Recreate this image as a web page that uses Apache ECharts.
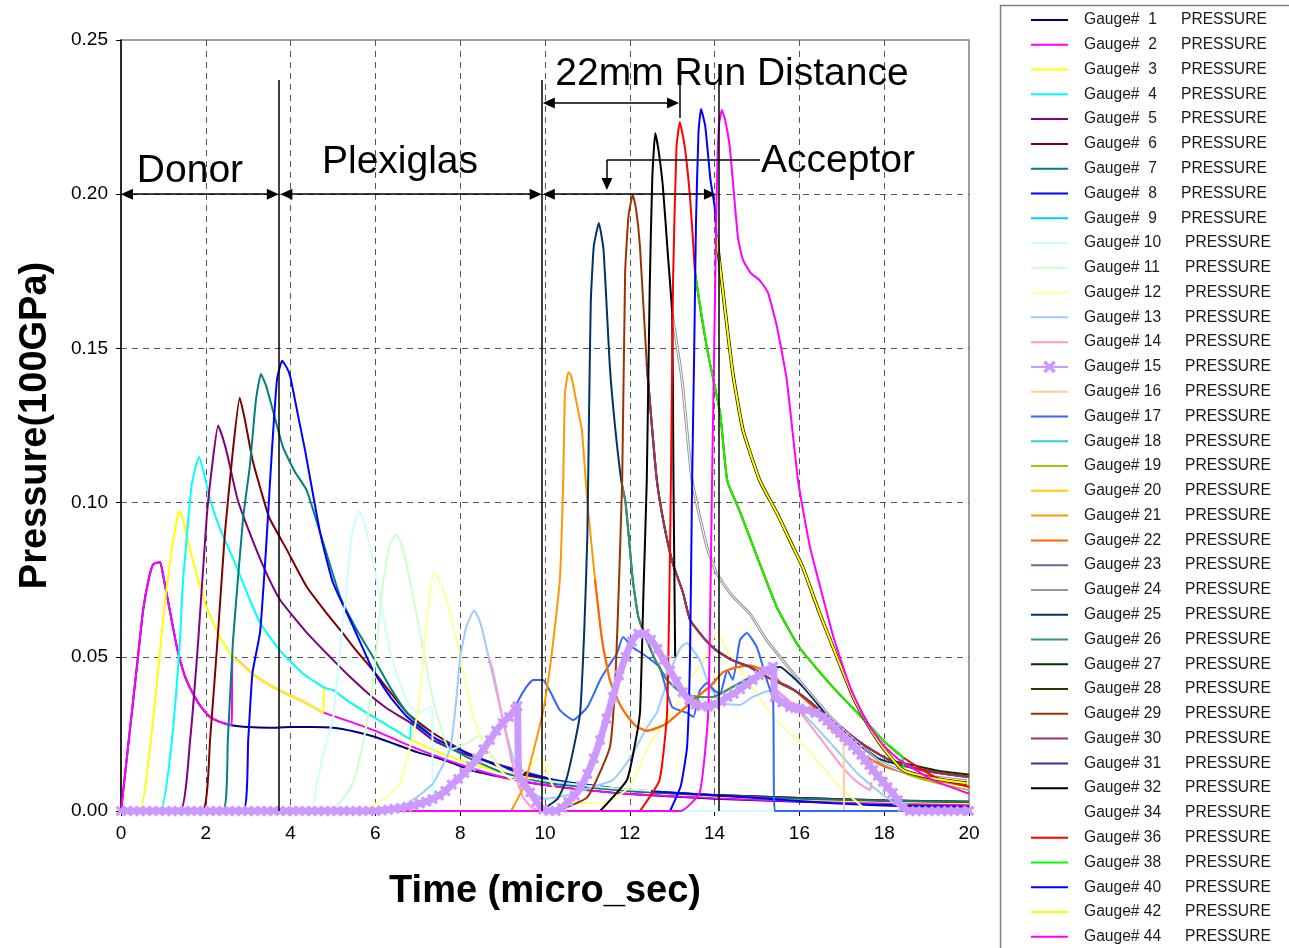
<!DOCTYPE html>
<html><head><meta charset="utf-8">
<script src="https://cdn.jsdelivr.net/npm/echarts@6/dist/echarts.min.js"></script>
<style>html,body{margin:0;padding:0;background:#fff}#c{width:1289px;height:948px}</style>
</head><body><div id="c"></div>
<script>
const FONT = "'Liberation Sans', Arial, sans-serif";
const gaugeIds = [1,2,3,4,5,6,7,8,9,10,11,12,13,14,15,16,17,18,19,20,21,22,23,24,25,26,27,28,29,30,31,32,34,36,38,40,42,44];
const gaugeColors = ['#000080','#FF00FF','#FFFF00','#00FFFF','#800080','#800000','#008080','#0000FF','#00CCFF','#CCFFFF','#CCFFCC','#FFFF99','#99CCFF','#FF99CC','#CC99FF','#FFCC99','#3366FF','#33CCCC','#99CC00','#FFCC00','#FF9900','#FF6600','#666699','#969696','#003366','#339966','#003300','#333300','#993300','#993366','#333399','#000000','#FFFFFF','#FF0000','#00FF00','#0000FF','#FFFF00','#FF00FF'];

// ---- curve pieces (x: micro_sec, y: 100GPa) ----
const navyPeak = [[0,0],[0.2,0.025],[0.4,0.05],[0.52,0.065],[0.65,0.075],[0.76,0.08],[0.92,0.0807],[1.0,0.076],[1.11,0.068],[1.32,0.053],[1.5,0.044],[1.7,0.038],[1.9,0.0335],[2.1,0.0305],[2.35,0.0288],[2.6,0.0278]];
const navyTail = [[3.0,0.0272],[3.5,0.027],[4.0,0.0272],[4.5,0.0272],[5.0,0.027],[5.5,0.0258],[6.0,0.024],[6.5,0.0215],[7.0,0.019],[7.5,0.017],[7.83,0.0155],[8.3,0.013],[8.8,0.0115],[9.5,0.0095],[10.5,0.0075],[12,0.0055],[14,0.004],[16,0.003],[18,0.0022],[20,0.0015]];
const yellowMid = [[2.64,0.05],[3.2,0.0435],[3.75,0.039],[4.3,0.0355],[4.77,0.032]];
const magentaTail = [[5.5,0.0285],[6.0,0.026],[6.58,0.0225],[7.2,0.019],[7.8,0.016],[8.4,0.0133],[9.0,0.011],[9.6,0.0093],[10.5,0.0075],[12,0.0055],[14,0.0042],[16,0.0032],[18,0.0025],[20,0.002]];
const yellowRise = [[0,0],[0.45,0],[0.68,0.02],[0.85,0.042],[1.0,0.063],[1.2,0.085],[1.37,0.0973],[1.45,0.095],[1.55,0.089],[1.8,0.076],[2.02,0.066],[2.33,0.0565]];
const cyanMid = [[4.79,0.04],[5.0,0.0392],[5.4,0.0352],[5.8,0.0318],[6.2,0.0285],[6.58,0.0253],[6.82,0.0233]];
const yellowTail = [[7.5,0.019],[8.16,0.0158],[9.0,0.0125],[9.88,0.0105],[11,0.008],[12.5,0.006],[14,0.0048],[16,0.0037],[18,0.003],[20,0.0025]];
const cyanRise = [[0,0],[0.92,0],[1.2,0.023],[1.39,0.055],[1.46,0.074],[1.67,0.106],[1.84,0.1148],[1.95,0.11],[2.1,0.101],[2.35,0.091],[2.64,0.082],[2.95,0.0715],[3.28,0.061],[3.75,0.052],[4.3,0.0445]];
const purpleRise = [[0,0],[1.39,0],[1.63,0.023],[1.82,0.055],[2.02,0.095],[2.15,0.112],[2.29,0.125],[2.4,0.121],[2.5,0.116],[2.75,0.101],[3.04,0.09],[3.4,0.078],[3.75,0.0685],[4.39,0.0577],[5.0,0.049],[5.4,0.0435],[5.87,0.0376],[6.3,0.033]];
const purpleTail = [[6.84,0.0285],[7.36,0.023],[8.0,0.019],[8.8,0.0155],[9.34,0.0133],[10.5,0.0092],[12,0.0067],[14,0.0052],[16,0.0042],[18,0.0034],[20,0.003]];
const g06 = [[0,0],[1.91,0],[2.1,0.023],[2.3,0.06],[2.45,0.09],[2.64,0.117],[2.8,0.134],[2.92,0.127],[3.1,0.114],[3.3,0.104],[3.5,0.095],[3.9,0.085],[4.38,0.0727],[4.8,0.065],[5.17,0.0587],[5.55,0.052],[5.94,0.0457],[6.35,0.0385],[6.75,0.0318],[7.36,0.0253],[8.16,0.0188],[9.34,0.0123],[10.5,0.009],[12,0.0065],[14,0.0052],[16,0.0042],[18,0.0035],[20,0.003]];
const g07 = [[0,0],[2.4,0],[2.52,0.023],[2.64,0.055],[2.88,0.095],[3.04,0.112],[3.18,0.133],[3.3,0.1417],[3.42,0.138],[3.58,0.13],[3.82,0.118],[4.1,0.11],[4.38,0.104],[4.77,0.087],[5.17,0.0694],[5.55,0.059],[5.94,0.05],[6.35,0.04],[6.75,0.0318],[7.36,0.024],[8.16,0.0175],[9.0,0.0125],[10.1,0.009],[12,0.0065],[14,0.005],[16,0.004],[18,0.0033],[20,0.003]];
const g08 = [[0,0],[2.88,0],[3.0,0.023],[3.1,0.0447],[3.28,0.058],[3.42,0.085],[3.56,0.117],[3.68,0.14],[3.8,0.146],[3.9,0.144],[3.99,0.141],[4.15,0.13],[4.34,0.117],[4.7,0.09],[5.0,0.074],[5.47,0.06],[5.94,0.0457],[6.35,0.037],[6.75,0.0305],[7.36,0.024],[8.0,0.0198],[8.94,0.0145],[10.05,0.0105],[11,0.0085],[12.07,0.0068],[13.5,0.0055],[15,0.0042],[16.8,0.0025],[18.5,0.0015],[20,0.001]];
const hiddenBase = [[0,0],[6,0]];
const g10 = [[0,0],[4.46,0],[4.62,0.009],[4.8,0.02],[5.0,0.03],[5.15,0.05],[5.33,0.074],[5.45,0.09],[5.6,0.0973],[5.7,0.095],[5.8,0.09],[6.04,0.074],[6.34,0.052],[6.58,0.0415],[6.82,0.0337],[7.05,0.032],[7.29,0.0337],[7.34,0.033],[7.37,0],[20,0]];
const g11 = [[0,0],[4.93,0],[5.47,0.009],[5.75,0.025],[5.94,0.0415],[6.18,0.074],[6.35,0.087],[6.49,0.0895],[6.6,0.087],[6.75,0.079],[6.98,0.063],[7.36,0.036],[7.76,0.0198],[8.16,0.022],[8.47,0.0246],[8.7,0.019],[8.94,0.0143],[9.5,0.011],[10.5,0.009],[11.5,0.0075],[12.5,0.0065]];
const g12 = [[0,0],[5.64,0],[6.2,0.004],[6.58,0.009],[6.98,0.0305],[7.1,0.045],[7.22,0.063],[7.38,0.0775],[7.5,0.075],[7.69,0.068],[8.0,0.05],[8.23,0.035],[8.47,0.024],[8.94,0.0133],[9.25,0.01],[9.6,0.014],[9.88,0.0175],[10.2,0.0078],[10.83,0.0026],[11.5,0.003],[12.0,0.008],[12.48,0.022],[13.0,0.032],[13.4,0.042],[13.82,0.051],[14.05,0.058],[14.3,0.052],[14.6,0.046],[15.0,0.038],[15.38,0.0305],[16.2,0.0198],[16.96,0.0078],[17.6,0]];
const g13 = [[0,0],[6.42,0],[6.98,0.0045],[7.36,0.009],[7.76,0.02],[7.9,0.035],[8.0,0.05],[8.15,0.06],[8.33,0.065],[8.45,0.062],[8.54,0.0577],[8.7,0.048],[9.0,0.03],[9.3,0.015],[9.6,0.007],[10.0,0.004],[10.5,0.005],[11.13,0.0078],[11.6,0.01],[12.0,0.017],[12.4,0.027],[12.64,0.032],[13.0,0.047],[13.2,0.053],[13.35,0.0545],[13.5,0.052],[13.65,0.049],[13.9,0.04],[14.2,0.035],[14.6,0.0344],[14.9,0.037],[15.3,0.039],[15.6,0.037],[16.2,0.03],[16.8,0.021],[17.36,0.0123],[17.9,0.006],[18.37,0.0013],[18.5,0]];
const g14 = [[8.66,0.048],[8.7,0.049],[8.94,0.034],[9.25,0.0143],[9.48,0.0045],[9.7,0.001],[9.95,0],[10,'-'],[15.4,0.04],[15.9,0.034],[16.3,0.027],[16.65,0.0207],[17.0,0.0145],[17.35,0.0095],[17.67,0.0068],[17.7,0.0095]];
const g15 = [[0,0],[0.15,0],[0.3,0],[0.45,0],[0.6,0],[0.75,0],[0.9,0],[1.05,0],[1.2,0],[1.35,0],[1.5,0],[1.65,0],[1.8,0],[1.95,0],[2.1,0],[2.25,0],[2.4,0],[2.55,0],[2.7,0],[2.85,0],[3.0,0],[3.15,0],[3.3,0],[3.45,0],[3.6,0],[3.75,0],[3.9,0],[4.05,0],[4.2,0],[4.35,0],[4.5,0],[4.65,0],[4.8,0],[4.95,0],[5.1,0],[5.25,0],[5.4,0],[5.55,0],[5.7,0],[5.85,0],[6.0,0],[6.15,0.0002],[6.3,0.0004],[6.45,0.0007],[6.6,0.001],[6.75,0.0014],[6.9,0.0018],[7.05,0.0024],[7.2,0.003],[7.35,0.0039],[7.5,0.005],[7.65,0.0065],[7.8,0.0085],[7.95,0.0104],[8.1,0.0123],[8.25,0.0145],[8.4,0.017],[8.55,0.02],[8.7,0.023],[8.85,0.026],[9.0,0.0285],[9.15,0.0305],[9.3,0.033],[9.35,0.034],[9.38,0.012],[9.5,0.009],[9.65,0.006],[9.8,0.003],[9.95,0.0005],[10.1,0],[10.25,0],[10.4,0.001],[10.55,0.003],[10.7,0.005],[10.85,0.008],[11.0,0.012],[11.15,0.017],[11.3,0.023],[11.45,0.03],[11.6,0.037],[11.75,0.044],[11.9,0.05],[12.05,0.055],[12.2,0.0575],[12.35,0.0575],[12.5,0.0555],[12.65,0.0525],[12.8,0.049],[12.95,0.0455],[13.1,0.042],[13.25,0.0385],[13.4,0.036],[13.55,0.0345],[13.7,0.034],[13.85,0.0338],[14.0,0.0345],[14.15,0.0355],[14.3,0.037],[14.45,0.038],[14.6,0.0395],[14.75,0.041],[14.9,0.0425],[15.05,0.044],[15.2,0.0455],[15.38,0.0468],[15.42,0.037],[15.6,0.0352],[15.78,0.0337],[15.9,0.0334],[16.0,0.0332],[16.18,0.0327],[16.38,0.0318],[16.56,0.0305],[16.66,0.0293],[16.76,0.028],[16.86,0.0267],[16.96,0.0253],[17.06,0.024],[17.16,0.0226],[17.26,0.0212],[17.36,0.0198],[17.46,0.0182],[17.55,0.0165],[17.65,0.0149],[17.74,0.0133],[17.85,0.0114],[17.97,0.0095],[18.08,0.0077],[18.2,0.0058],[18.32,0.0035],[18.44,0.0013],[18.6,0],[18.75,0],[18.9,0],[19.05,0],[19.2,0],[19.35,0],[19.5,0],[19.65,0],[19.8,0],[20,0]];
const g16 = [[15.42,0.037],[15.78,0.0337],[16.18,0.0327],[16.56,0.0305],[17.03,0.0235],[17.05,0]];
const g17 = [[9.3,0.033],[9.34,0.035],[9.55,0.04],[9.72,0.0425],[9.95,0.0425],[10.15,0.038],[10.35,0.0327],[10.66,0.0295],[11.0,0.0337],[11.3,0.0425],[11.5,0.047],[11.7,0.0512],[11.84,0.0564],[12.07,0.053],[12.3,0.051],[12.5,0.049],[12.7,0.0467],[12.85,0.04],[13.0,0.0337],[13.35,0.0318],[13.5,0.0305],[13.65,0.039],[13.82,0.0415],[14.0,0.039],[14.13,0.038],[14.3,0.0457],[14.43,0.0425],[14.6,0.0555],[14.76,0.0577],[15.0,0.053],[15.23,0.0425],[15.38,0.036],[15.42,0],[20,0]];
const greenFall = [[13.54,0.1745],[13.82,0.15],[14.13,0.129],[14.3,0.107],[14.6,0.097],[15.07,0.08],[15.47,0.066],[16.0,0.053],[16.8,0.04],[17.6,0.0285],[18.0,0.0225],[18.43,0.0175]];
const yellowGreenTail = [[18.46,0.0125],[19.2,0.0092],[20,0.0068]];
const yellowFall = [[14.05,0.186],[14.2,0.168],[14.43,0.142],[14.67,0.1235],[15.07,0.107],[15.47,0.0966],[15.85,0.0856],[16.08,0.079],[16.48,0.064],[17.0,0.046],[17.3,0.036],[17.7,0.026],[18.0,0.02],[18.44,0.0133],[19.2,0.0105],[19.95,0.009]];
const amberRise = [[9.2,0],[9.5,0.008],[9.7,0.018],[9.95,0.032],[10.15,0.05],[10.35,0.075],[10.43,0.107],[10.47,0.135],[10.55,0.1423],[10.62,0.141],[10.75,0.132],[10.87,0.1235],[11.0,0.1]];
const orangeDip = [[11.18,0.075],[11.35,0.055],[11.53,0.0425],[11.75,0.035],[11.93,0.031],[12.15,0.0275],[12.4,0.026],[12.65,0.027],[12.88,0.0285],[13.18,0.032],[13.5,0.036],[13.9,0.0405],[14.2,0.045],[14.5,0.0465],[14.83,0.0472],[15.1,0.046],[15.38,0.044],[15.6,0.041],[15.9,0.039],[16.3,0.034],[16.8,0.026],[17.4,0.019],[18,0.0145],[19,0.0105],[20,0.008]];
const grayFall = [[13.0,0.161],[13.23,0.14],[13.47,0.107],[13.82,0.0856],[14.05,0.077],[14.4,0.07],[14.83,0.064],[15.2,0.056],[15.6,0.049],[16.2,0.039],[16.8,0.0295],[17.4,0.022],[17.97,0.0155],[18.5,0.0125],[19.2,0.011],[19.95,0.0098]];
const navyRise = [[9.9,0],[10.3,0.004],[10.5,0.01],[10.7,0.022],[10.83,0.032],[10.93,0.06],[11.0,0.09],[11.04,0.13],[11.08,0.165],[11.15,0.183],[11.27,0.1907],[11.38,0.182],[11.53,0.144],[11.65,0.125]];
const seaGreenFall = [[11.8,0.107],[11.9,0.1],[12.07,0.075],[12.2,0.063],[12.4,0.0555],[12.6,0.049],[12.88,0.0425],[13.25,0.038],[13.6,0.037],[13.96,0.037],[14.4,0.04],[14.8,0.043],[15.2,0.045]];
const navyLate = [[15.4,0.0465],[15.55,0.0467],[15.8,0.044],[16.1,0.04],[16.41,0.035],[16.8,0.0285],[17.12,0.0253],[17.5,0.0205],[17.9,0.0168],[18.5,0.0145],[19.2,0.0125],[20,0.011]];
const plumFall = [[12.4,0.145],[12.52,0.125],[12.64,0.107],[12.82,0.092],[13.02,0.08],[13.25,0.071],[13.42,0.062],[13.75,0.056],[14.05,0.052],[14.4,0.049],[14.83,0.0467],[15.3,0.043],[15.78,0.04],[16.2,0.036],[16.56,0.0318],[17.0,0.027],[17.36,0.023],[17.8,0.019],[18.14,0.0165]];
const brownRise = [[10.28,0],[11.0,0.0045],[11.53,0.0207],[11.65,0.04],[11.72,0.064],[11.82,0.107],[11.89,0.1745],[11.97,0.193],[12.07,0.1998],[12.15,0.195],[12.24,0.183]];
const g32 = [[11.3,0],[11.93,0.01],[12.1,0.02],[12.24,0.032],[12.32,0.07],[12.4,0.107],[12.47,0.17],[12.53,0.205],[12.6,0.2198],[12.68,0.214],[12.78,0.2025],[12.9,0.18],[13.0,0.161],[13.03,0.107],[13.07,0.05]];
const redRise = [[12.24,0],[12.7,0.01],[12.88,0.032],[12.97,0.107],[13.02,0.172],[13.1,0.215],[13.18,0.2234],[13.3,0.215],[13.42,0.199],[13.5,0.183]];
const redTail = [[19.2,0.011],[20,0.0078]];
const blueRise = [[12.95,0],[13.2,0.008],[13.35,0.0207],[13.42,0.05],[13.47,0.107],[13.52,0.15],[13.56,0.19],[13.62,0.22],[13.68,0.2276],[13.78,0.222],[13.9,0.205],[14.0,0.196]];
const g44 = [[0,0],[13.2,0],[13.65,0.006],[13.85,0.032],[13.94,0.107],[14.05,0.2],[14.1,0.222],[14.17,0.2273],[14.25,0.224],[14.36,0.215],[14.55,0.186],[14.67,0.1787],[14.85,0.1745],[15.07,0.172],[15.26,0.168],[15.47,0.157],[15.7,0.14],[15.97,0.107],[16.25,0.0856],[16.56,0.069],[16.8,0.0565],[17.2,0.04],[17.6,0.0285],[18.0,0.021],[18.37,0.0165],[19.15,0.01],[20,0.0056]];

const gaugeData = [
  navyPeak.concat(navyTail),                         //1
  navyPeak.concat(yellowMid, magentaTail),           //2
  yellowRise.concat(yellowMid, cyanMid, yellowTail), //3
  cyanRise.concat(cyanMid, purpleTail),              //4
  purpleRise.concat(purpleTail),                     //5
  g06, g07, g08,
  hiddenBase,                                        //9
  g10, g11, g12, g13, g14, g15, g16, g17,
  hiddenBase,                                        //18
  greenFall.concat(yellowGreenTail),                 //19
  yellowFall,                                        //20
  amberRise.concat(orangeDip),                       //21
  orangeDip,                                         //22
  hiddenBase,                                        //23
  grayFall,                                          //24
  navyRise.concat(seaGreenFall, navyLate),           //25
  seaGreenFall,                                      //26
  plumFall.concat([[18.7,0.0148],[19.3,0.013],[20,0.0118]]), //27
  yellowFall,                                        //28
  brownRise.concat(plumFall, [[18.7,0.014],[19.3,0.0125],[20,0.0112]]), //29
  plumFall.concat([[18.7,0.0138],[19.3,0.0122],[19.95,0.011]]), //30
  hiddenBase,                                        //31
  g32,                                               //32
  grayFall,                                          //34
  redRise.concat(greenFall, redTail),                //36
  greenFall.concat([[18.46,0.0125]]),                //38
  blueRise.concat(yellowFall),                       //40
  yellowFall,                                        //42
  g44                                                //44
];

const chart = echarts.init(document.getElementById('c'), null, {renderer:'canvas'});
const names = gaugeIds.map(n => 'Gauge# ' + n);
const X_ICON = 'path://M2,0 L5,3 L8,0 L10,2 L7,5 L10,8 L8,10 L5,7 L2,10 L0,8 L3,5 L0,2Z';
const LINE_ICON = 'path://M0,7L37,7L37,9L0,9Z M0,0L0.01,0L0,0.01Z M37,16L36.99,16L37,15.99Z';
// drawing order tweaks: gauge 28 sits under the yellow of gauges 20/42
const zOf = {15: 3, 28: 2.5, 20: 2.55, 42: 2.6, 44: 2.7};
const series = gaugeIds.map((id, i) => {
  const s = {
    type: 'line', name: names[i], data: gaugeData[i], symbol: 'none', showSymbol: false,
    smooth: 0.15,
    lineStyle: {width: 2, color: gaugeColors[i]}, itemStyle: {color: gaugeColors[i]},
    z: zOf[id] || 2, silent: true, animation: false, connectNulls: false
  };
  if (id === 15) {
    s.symbol = X_ICON;
    s.symbolSize = 11; s.showSymbol = true; s.showAllSymbol = true;
    s.lineStyle.width = 7;
  }
  if (id === 24) { s.lineStyle.width = 3; }
  if (id === 34) { s.lineStyle.width = 1; }
  if (id === 28) { s.lineStyle.width = 3.5; }
  if (id === 20 || id === 42) { s.lineStyle.width = 1.6; }
  return s;
});
series.push({
  type: 'line', name: '_annot', data: [], z: 4, silent: true, animation: false,
  markLine: {
    silent: true, animation: false, symbol: ['none','none'], symbolSize: [11,12],
    label: {show: false},
    lineStyle: {color: '#000', width: 1.5, type: 'solid'},
    data: [
      [{coord:[3.726,0]},{coord:[3.726,0.237]}],
      [{coord:[9.93,0]},{coord:[9.93,0.237]}],
      [{coord:[14.1,0]},{coord:[14.1,0.236]}],
      [{coord:[13.18,0.2247]},{coord:[13.18,0.237]}],
      [{coord:[0.14,0.2],symbol:'triangle'},{coord:[3.58,0.2],symbol:'triangle'}],
      [{coord:[3.9,0.2],symbol:'triangle'},{coord:[9.78,0.2],symbol:'triangle'}],
      [{coord:[10.09,0.2],symbol:'triangle'},{coord:[13.89,0.2],symbol:'triangle'}],
      [{coord:[10.09,0.2296],symbol:'triangle'},{coord:[13.02,0.2296],symbol:'triangle'}],
      [{coord:[15.07,0.2111]},{coord:[11.46,0.2111]}],
      [{coord:[11.46,0.2111]},{coord:[11.46,0.2033],symbol:'triangle'}]
    ]
  }
});

const legendItems = names.map((nm, i) => gaugeIds[i] === 15 ? {name: nm} : {name: nm, icon: LINE_ICON});

chart.setOption({
  animation: false,
  backgroundColor: '#fff',
  textStyle: {fontFamily: FONT},
  grid: {left: 121, right: 320, top: 40, bottom: 137, show: true, borderColor: '#808080', borderWidth: 1.5, backgroundColor: 'transparent'},
  xAxis: {
    type: 'value', min: 0, max: 20, interval: 2,
    axisLine: {show: true, onZero: false, lineStyle: {color: '#000', width: 1.5}},
    axisTick: {show: true, length: 5, lineStyle: {color: '#000'}},
    axisLabel: {fontSize: 19, color: '#000', margin: 13, fontFamily: FONT},
    splitLine: {show: true, showMinLine: false, showMaxLine: false, lineStyle: {type: [6,5], color: '#555', width: 1}},
    name: 'Time (micro_sec)', nameLocation: 'middle', nameGap: 62,
    nameTextStyle: {fontSize: 38, fontWeight: 'bold', color: '#000', fontFamily: FONT}
  },
  yAxis: {
    type: 'value', min: 0, max: 0.25, interval: 0.05,
    axisLine: {show: true, lineStyle: {color: '#000', width: 1.5}},
    axisTick: {show: true, length: 5, lineStyle: {color: '#000'}},
    axisLabel: {fontSize: 19, color: '#000', margin: 13, fontFamily: FONT, formatter: v => v.toFixed(2)},
    splitLine: {show: true, showMinLine: false, showMaxLine: false, lineStyle: {type: [6,5], color: '#555', width: 1}},
    name: 'Pressure(100GPa)', nameLocation: 'middle', nameGap: 66,
    nameTextStyle: {fontSize: 38, fontWeight: 'bold', color: '#000', fontFamily: FONT}
  },
  legend: {
    data: legendItems, orient: 'vertical', left: 1030, top: 12, padding: 0,
    itemWidth: 37, itemHeight: 16, itemGap: 8.78, selectedMode: false,
    lineStyle: {width: 2},
    itemStyle: {borderWidth: 0},
    textStyle: {fontSize: 15.6, color: '#1a1a1a', fontFamily: FONT,
      rich: {
        s: {fontSize: 15.6, width: 97, padding: [0,0,0,11], lineHeight: 16, color: '#1a1a1a', fontFamily: FONT},
        d: {fontSize: 15.6, width: 101, padding: [0,0,0,11], lineHeight: 16, color: '#1a1a1a', fontFamily: FONT},
        p: {fontSize: 15.6, lineHeight: 16, color: '#1a1a1a', fontFamily: FONT}
      }},
    formatter: name => {
      const n = name.split(' ')[1];
      return n.length < 2 ? '{s|Gauge#  ' + n + '}{p|PRESSURE}' : '{d|Gauge# ' + n + '}{p|PRESSURE}';
    }
  },
  series: series
});

const annotations = [
  {text: 'Donor', x: 1.627, y: 0.2074},
  {text: 'Plexiglas', x: 6.58, y: 0.2103},
  {text: '22mm Run Distance', x: 14.41, y: 0.2388},
  {text: 'Acceptor', x: 16.91, y: 0.2106}
];
const graphics = annotations.map(a => {
  const p = chart.convertToPixel({xAxisIndex: 0, yAxisIndex: 0}, [a.x, a.y]);
  return {type: 'text', x: p[0], y: p[1], z: 10, silent: true,
    style: {text: a.text, fontSize: 39, fontFamily: FONT, fill: '#000', align: 'center', verticalAlign: 'middle'}};
});
graphics.push({type: 'rect', shape: {x: 1000.5, y: 5.5, width: 300, height: 960}, z: 0, silent: true,
  style: {fill: 'none', stroke: '#808080', lineWidth: 1.5}});
chart.setOption({graphic: graphics});
</script></body></html>
